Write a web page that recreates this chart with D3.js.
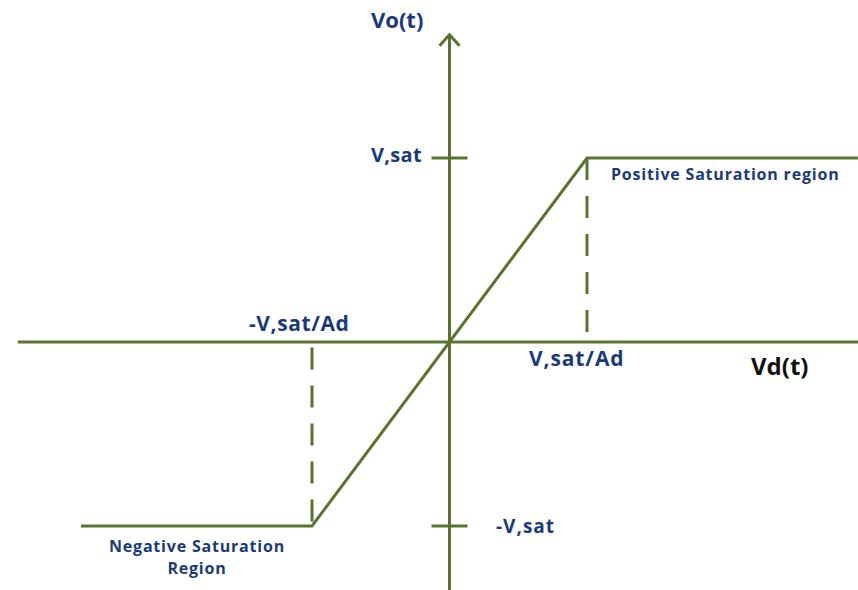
<!DOCTYPE html>
<html>
<head>
<meta charset="utf-8">
<script src="https://cdn.jsdelivr.net/npm/d3@7"></script>
<style>
  body { margin: 0; background: #fff; }
</style>
</head>
<body>
<div class="canvas"></div>
<script>
// transfer characteristic (Vsat = 1, Vsat/Ad = 1)
var curveX = [-2.68, -1, 1, 2.97];
var curveY = [-1, -1, 1, 1];
var tickValues = [1, -1];
var tickLabels = ["V,sat", "-V,sat"];
var dashX = [1, -1];
var dashFrom = [1, -0.03];
var dashTo = [0.04, -1];

var width = 858, height = 590;
var green = "#5b7233", navy = "#1b3a78";

var svg = d3.select(".canvas")
    .append("svg")
    .attr("width", width)
    .attr("height", height)
    .style("font-family", "'Open Sans', sans-serif")
    .style("font-weight", "bold");

var x = d3.scaleLinear().domain([-1, 1]).range([312, 587]);
var y = d3.scaleLinear().domain([-1, 1]).range([526, 158]);

// axes
svg.append("line")
    .attr("x1", x(-3.14)).attr("x2", width)
    .attr("y1", y(0)).attr("y2", y(0))
    .attr("stroke", green).attr("stroke-width", 3);

svg.append("line")
    .attr("x1", x(0)).attr("x2", x(0))
    .attr("y1", height).attr("y2", y(1.67))
    .attr("stroke", green).attr("stroke-width", 3);

// arrow head
svg.append("path")
    .attr("d", `M${x(0) - 10},${y(1.67) + 11} L${x(0)},${y(1.67)} L${x(0) + 10},${y(1.67) + 11}`)
    .attr("fill", "none")
    .attr("stroke", green).attr("stroke-width", 3);

// ticks on y axis
svg.selectAll("mytick")
    .data(tickValues)
    .enter()
    .append("line")
      .attr("x1", x(0) - 18).attr("x2", x(0) + 18)
      .attr("y1", d => y(d)).attr("y2", d => y(d))
      .attr("stroke", green).attr("stroke-width", 3);

// dashed guides
svg.selectAll("mydash")
    .data(dashX)
    .enter()
    .append("line")
      .attr("x1", d => x(d)).attr("x2", d => x(d))
      .attr("y1", (d, i) => y(dashFrom[i]))
      .attr("y2", (d, i) => y(dashTo[i]))
      .attr("stroke", green).attr("stroke-width", 3)
      .attr("stroke-dasharray", "22,16");

// curve
var pts = curveX.map((d, i) => [d, curveY[i]]);
svg.append("path")
    .datum(pts)
    .attr("d", d3.line().x(d => x(d[0])).y(d => y(d[1])))
    .attr("fill", "none")
    .attr("stroke", green).attr("stroke-width", 3)
    .attr("stroke-linejoin", "miter");

// labels
function label(txt, px, py, size, anchor, color, spacing) {
    svg.append("text")
        .attr("x", px).attr("y", py)
        .attr("text-anchor", anchor || "start")
        .attr("fill", color || navy)
        .style("font-size", size + "px")
        .style("letter-spacing", (spacing || 0) + "px")
        .text(txt);
}

label("Vo(t)", 371, 28, 22);
label(tickLabels[0], 371, 162, 20, "start", navy, 0.3);
label(tickLabels[1], 496, 533, 19, "start", navy, 1);
label("-V,sat/Ad", 249, 331, 21, "start", navy, 0.6);
label("V,sat/Ad", 529, 366, 21, "start", navy, 0.9);
label("Vd(t)", 751, 375, 24, "start", "#111");
label("Positive Saturation region", 611, 180, 16, "start", navy, 0.8);
label("Negative Saturation", 197, 552, 16, "middle", navy, 0.8);
label("Region", 197, 574, 16, "middle", navy, 0.8);
</script>
</body>
</html>
